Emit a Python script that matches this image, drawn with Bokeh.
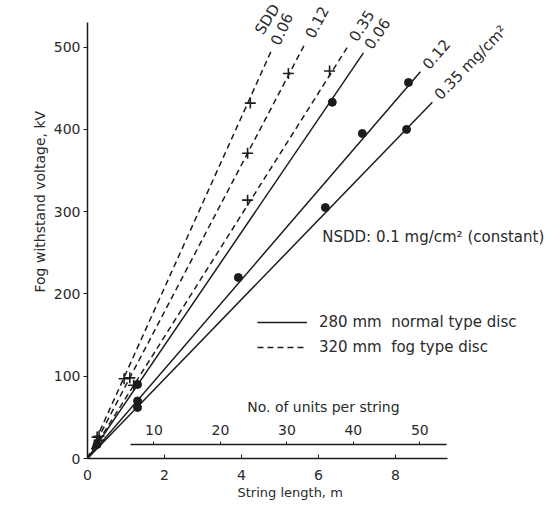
import math
from bokeh.plotting import figure
from bokeh.models import (Range1d, LinearAxis, Label, Legend, LegendItem,
                          FixedTicker, ColumnDataSource, Title)
from bokeh.core.properties import value
from bokeh.embed import file_html
from bokeh.resources import INLINE

# ---------------- data ----------------
# 320 mm fog type disc (dashed), SDD values
fog_labels = ["0.06", "0.12", "0.35"]
fog_end_len = [4.78, 5.66, 6.78]          # string length, m (line end)
fog_end_kv = [496, 505, 502]              # fog withstand voltage, kV
fog_pts_len = [[0.25, 0.95, 4.23], [0.3, 1.1, 4.16, 5.22], [0.3, 1.2, 4.16, 6.29]]
fog_pts_kv = [[26, 97, 432], [27, 98, 371, 468], [22, 89, 314, 471]]

# 280 mm normal type disc (solid)
normal_labels = ["0.06", "0.12", "0.35 mg/cm\u00b2"]
normal_end_len = [7.17, 8.65, 8.96]
normal_end_kv = [493, 470, 433]
normal_pts_len = [[0.25, 1.3, 6.36], [1.3, 3.92, 7.14, 8.34], [1.3, 6.18, 8.29]]
normal_pts_kv = [[17, 90, 433], [70, 220, 395, 457], [62, 305, 400]]

y_ticks = [0, 100, 200, 300, 400, 500]
x_ticks = [0, 2, 4, 6, 8]
unit_ticks = [10, 20, 30, 40, 50]
m_per_unit = 0.1727            # string length per insulator unit

# ---------------- layout / style ----------------
FONT = "DejaVu Sans"
INK = "#1c1c1c"
TXT = "#2a2a2a"
W, H = 550, 508
BL, BB = 87, 50
X_END = 12.03
Y_END = 556.7

p = figure(width=W, height=H, x_range=Range1d(0, X_END), y_range=Range1d(0, Y_END),
           output_backend="svg", toolbar_location=None,
           min_border_left=BL, min_border_right=0, min_border_top=0, min_border_bottom=BB)
kx = (W - BL) / X_END
ky = (H - BB) / Y_END
p.outline_line_color = None
p.xgrid.visible = False
p.ygrid.visible = False
p.background_fill_color = "white"

for ax in (p.xaxis[0], p.yaxis[0]):
    ax.axis_line_color = INK
    ax.axis_line_width = 1.5
    ax.major_tick_line_color = INK
    ax.minor_tick_line_color = None
    ax.major_label_text_font = FONT
    ax.major_label_text_font_size = "14px"
    ax.major_label_text_color = TXT

p.yaxis.ticker = FixedTicker(ticks=y_ticks)
p.yaxis.bounds = (0, 530)
p.yaxis.major_tick_out = 4
p.yaxis.major_tick_in = 0
p.yaxis.major_label_standoff = 3

p.xaxis.ticker = FixedTicker(ticks=x_ticks)
p.xaxis.bounds = (0, 9.35)
p.xaxis.major_tick_out = 0
p.xaxis.major_tick_in = 4
p.xaxis.major_label_standoff = 11

# axis titles placed as side titles so they can sit off-centre like the original
p.add_layout(Title(text="Fog withstand voltage, kV", align="left", offset=166,
                   standoff=6, text_font=FONT, text_font_size="14px",
                   text_font_style="normal", text_color=TXT), "left")
p.add_layout(Title(text="String length, m", align="left", offset=150,
                   standoff=0, text_font=FONT, text_font_size="13px",
                   text_font_style="normal", text_color=TXT), "below")

# secondary scale: number of units per string
p.extra_x_ranges = {"units": Range1d(0, X_END / m_per_unit)}
uax = LinearAxis(x_range_name="units", fixed_location=17,
                 ticker=FixedTicker(ticks=unit_ticks), bounds=(6.5, 54))
uax.axis_line_color = INK
uax.axis_line_width = 1.5
uax.major_tick_line_color = INK
uax.major_tick_out = 3
uax.major_tick_in = 0
uax.minor_tick_line_color = None
uax.major_label_standoff = 7
uax.major_label_text_font = FONT
uax.major_label_text_font_size = "14px"
uax.major_label_text_color = TXT
p.add_layout(uax, "above")

p.add_layout(Label(x=6.13, y=63, text="No. of units per string",
                   text_font=FONT, text_font_size="14px", text_color=TXT,
                   text_align="center", text_baseline="middle"))

# ---------------- lines and markers ----------------
fog_renderers = []
for i in range(len(fog_labels)):
    r = p.line([0, fog_end_len[i]], [0, fog_end_kv[i]], line_color=INK,
               line_width=1.5, line_dash="6 4")
    fog_renderers.append(r)
    p.scatter(fog_pts_len[i], fog_pts_kv[i], marker="cross", size=11,
              line_color=INK, line_width=1.6)

normal_renderers = []
for i in range(len(normal_labels)):
    r = p.line([0, normal_end_len[i]], [0, normal_end_kv[i]], line_color=INK,
               line_width=1.5)
    normal_renderers.append(r)
    p.scatter(normal_pts_len[i], normal_pts_kv[i], marker="circle", size=8,
              fill_color=INK, line_color=INK)

# ---------------- line-end labels ----------------
all_len = fog_end_len + normal_end_len
all_kv = fog_end_kv + normal_end_kv
all_lab = fog_labels + normal_labels
angles = [math.atan2(v * ky, l * kx) for l, v in zip(all_len, all_kv)]
d = 7
src = ColumnDataSource(dict(
    x=all_len, y=all_kv, text=all_lab, angle=angles,
    xo=[d * math.cos(a) for a in angles],
    yo=[-d * math.sin(a) for a in angles],
))
p.text(x="x", y="y", text="text", angle="angle", x_offset="xo", y_offset="yo",
       source=src, text_font=value(FONT), text_font_size="15px",
       text_color=TXT, text_align="left", text_baseline="middle")

p.add_layout(Label(x=4.45, y=517, text="SDD", angle=math.radians(58),
                   text_font=FONT, text_font_size="15px", text_color=TXT,
                   text_align="left", text_baseline="middle"))

# ---------------- annotations ----------------
p.add_layout(Label(x=6.10, y=269, text="NSDD: 0.1 mg/cm\u00b2 (constant)",
                   text_font=FONT, text_font_size="15px", text_color=TXT,
                   text_align="left", text_baseline="middle"))

legend = Legend(items=[
    LegendItem(label="280 mm  normal type disc", renderers=[normal_renderers[0]]),
    LegendItem(label="320 mm  fog type disc", renderers=[fog_renderers[0]]),
], location=(170, 101), glyph_width=50, glyph_height=20, label_standoff=12,
    spacing=5, padding=0, margin=0, background_fill_alpha=0,
    border_line_alpha=0, label_text_font=FONT, label_text_font_size="15px",
    label_text_color=TXT)
p.add_layout(legend)

open("out.html", "w").write(file_html(p, INLINE))
